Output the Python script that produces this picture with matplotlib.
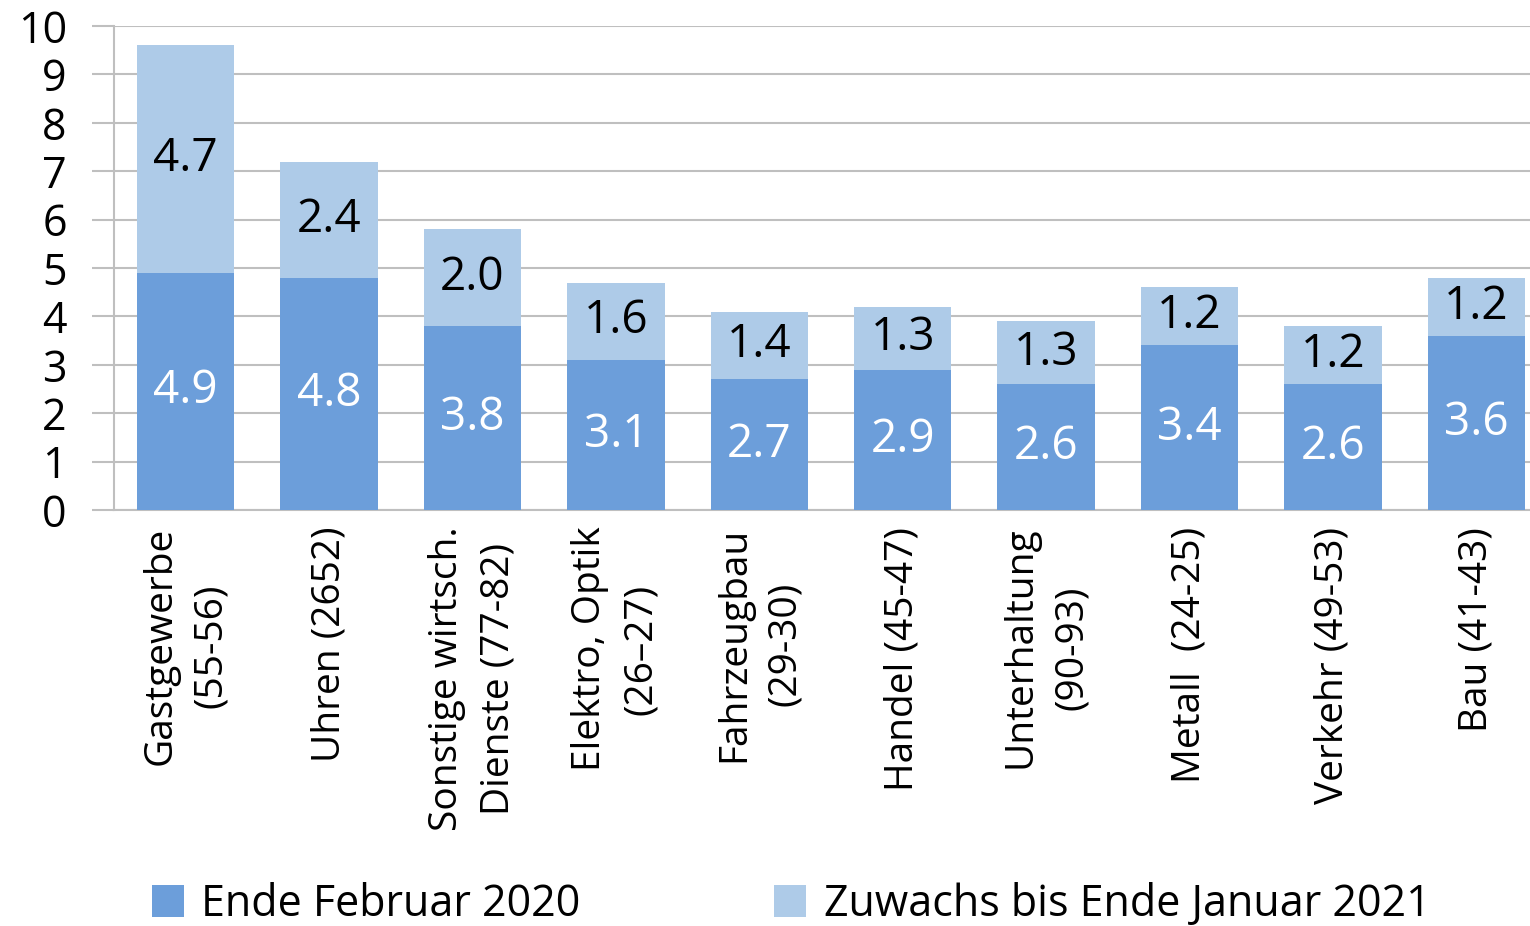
import matplotlib.pyplot as plt
import numpy as np

plt.rcParams['font.family'] = ['Open Sans', 'DejaVu Sans']

# Data
categories = ['Gastgewerbe\n(55-56)', 'Uhren (2652)', 'Sonstige wirtsch.\nDienste (77-82)',
              'Elektro, Optik\n(26–27)', 'Fahrzeugbau\n(29-30)', 'Handel (45-47)',
              'Unterhaltung\n(90-93)', 'Metall  (24-25)', 'Verkehr (49-53)', 'Bau (41-43)']
feb_2020 = [4.9, 4.8, 3.8, 3.1, 2.7, 2.9, 2.6, 3.4, 2.6, 3.6]
zuwachs_2021 = [4.7, 2.4, 2.0, 1.6, 1.4, 1.3, 1.3, 1.2, 1.2, 1.2]
series_names = ['Ende Februar 2020', 'Zuwachs bis Ende Januar 2021']

dark_blue = '#6C9EDA'
light_blue = '#AECBE8'
grid_gray = '#BFBFBF'

fig = plt.figure(figsize=(15.3, 9.26), dpi=100)
ax = fig.add_axes([114 / 1530, 1 - 510 / 926, (1548 - 114) / 1530, (510 - 26) / 926])

x = np.arange(len(categories))
width = 0.68
b1 = ax.bar(x, feb_2020, width, color=dark_blue, label=series_names[0], zorder=3)
b2 = ax.bar(x, zuwachs_2021, width, bottom=feb_2020, color=light_blue,
            label=series_names[1], zorder=3)

for i in range(len(x)):
    ax.text(x[i], feb_2020[i] / 2, f'{feb_2020[i]:.1f}', ha='center', va='center',
            fontsize=33, color='white', zorder=4)
    ax.text(x[i], feb_2020[i] + zuwachs_2021[i] / 2, f'{zuwachs_2021[i]:.1f}',
            ha='center', va='center', fontsize=33, color='black', zorder=4)

ax.set_xlim(-0.5, len(x) - 0.5)
ax.set_ylim(0, 10)
ax.set_yticks(range(0, 11))
ax.tick_params(axis='y', labelsize=31, length=16, width=1.5, color=grid_gray, pad=18)
ax.tick_params(axis='x', length=0, pad=12)
ax.set_xticks(x)
ax.set_xticklabels(categories, rotation=90, ha='center', va='top',
                   multialignment='center', fontsize=28, linespacing=1.45)

ax.grid(axis='y', color=grid_gray, linewidth=1.5, zorder=0)
for side in ['top', 'right']:
    ax.spines[side].set_visible(False)
for side in ['left', 'bottom']:
    ax.spines[side].set_color(grid_gray)
    ax.spines[side].set_linewidth(1.5)

fig.legend(handles=[b1, b2], labels=series_names, loc='center',
           bbox_to_anchor=(791 / 1530, 1 - 905 / 926), ncol=2, frameon=False,
           fontsize=31, handlelength=0.75, handleheight=0.75, handletextpad=0.4,
           columnspacing=4.5)

fig.savefig('out.png', dpi=100)
